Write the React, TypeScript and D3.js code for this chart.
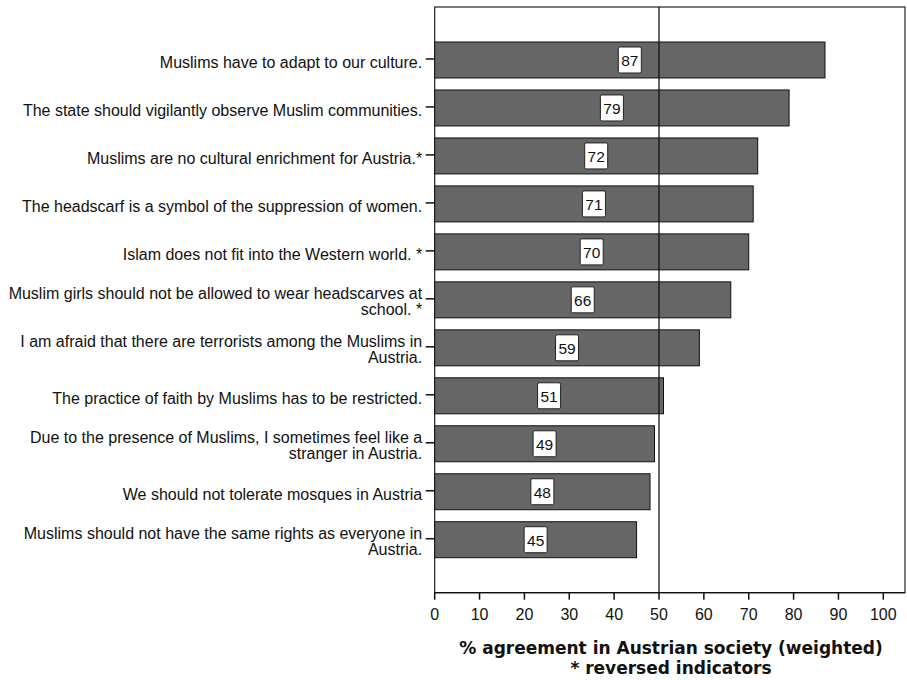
import React, { useEffect, useRef } from "react";
import * as d3 from "d3";

const categories: string[] = [
  "Muslims have to adapt to our culture.",
  "The state should vigilantly observe Muslim communities.",
  "Muslims are no cultural enrichment for Austria.*",
  "The headscarf is a symbol of the suppression of women.",
  "Islam does not fit into the Western world. *",
  "Muslim girls should not be allowed to wear headscarves at\nschool. *",
  "I am afraid that there are terrorists among the Muslims in\nAustria.",
  "The practice of faith by Muslims has to be restricted.",
  "Due to the presence of Muslims, I sometimes feel like a\nstranger in Austria.",
  "We should not tolerate mosques in Austria",
  "Muslims should not have the same rights as everyone in\nAustria.",
];
const values: number[] = [87, 79, 72, 71, 70, 66, 59, 51, 49, 48, 45];
const xTicks: number[] = [0, 10, 20, 30, 40, 50, 60, 70, 80, 90, 100];
const referenceValue = 50;
const titleLines: string[] = ["% agreement in Austrian society (weighted)", "* reversed indicators"];

export default function App() {
  const ref = useRef<SVGSVGElement>(null);
  useEffect(() => {
    const svg = d3.select(ref.current);
    svg.selectAll("*").remove();
    const left = 434.7, right = 905, top = 7, bottom = 592.7;
    const x = d3.scaleLinear().domain([0, 100]).range([left, 883.3]);
    const y = d3.scaleBand<number>().domain(d3.range(categories.length)).range([top + 29, bottom - 29]).paddingInner(0.25).paddingOuter(0.125);
    const font = "'Liberation Sans', Arial, sans-serif";

    // frame
    svg.append("rect").attr("x", left).attr("y", top).attr("width", right - left).attr("height", bottom - top)
      .attr("fill", "white").attr("stroke", "#222").attr("stroke-width", 1.2);

    // bars
    svg.selectAll("rect.bar").data(values).enter().append("rect").attr("class", "bar")
      .attr("x", x(0)).attr("y", (_, i) => y(i)!).attr("width", d => x(d) - x(0)).attr("height", y.bandwidth())
      .attr("fill", "#666666").attr("stroke", "#111").attr("stroke-width", 1);

    // reference line
    svg.append("line").attr("x1", x(referenceValue)).attr("x2", x(referenceValue)).attr("y1", top).attr("y2", bottom)
      .attr("stroke", "#111").attr("stroke-width", 1.3);

    // value labels
    const lab = svg.selectAll("g.vl").data(values).enter().append("g").attr("class", "vl")
      .attr("transform", (d, i) => `translate(${(x(0) + x(d)) / 2},${y(i)! + y.bandwidth() / 2})`);
    lab.append("rect").attr("x", -11.5).attr("y", -13).attr("width", 23).attr("height", 26).attr("rx", 1.5)
      .attr("fill", "white").attr("stroke", "#222").attr("stroke-width", 1);
    lab.append("text").attr("text-anchor", "middle").attr("y", 6).attr("font-family", font).attr("font-size", 15.5)
      .attr("fill", "#111").text(d => String(d));

    // y ticks and labels
    const yt = svg.selectAll("g.yt").data(categories).enter().append("g").attr("class", "yt")
      .attr("transform", (_, i) => `translate(0,${y(i)! + y.bandwidth() / 2 - 1})`);
    yt.append("line").attr("x1", left - 9).attr("x2", left).attr("stroke", "#111").attr("stroke-width", 1.5);
    yt.each(function (d) {
      const lines = d.split("\n");
      const g = d3.select(this);
      const base = lines.length === 1 ? 9.5 : 0;
      lines.forEach((ln, k) => {
        g.append("text").attr("x", left - 12.5).attr("y", base + k * 16)
          .attr("text-anchor", "end").attr("font-family", font).attr("font-size", 16).attr("fill", "#111").text(ln);
      });
    });

    // x axis
    svg.append("line").attr("x1", left).attr("x2", right).attr("y1", bottom).attr("y2", bottom).attr("stroke", "#111").attr("stroke-width", 1.2);
    const xt = svg.selectAll("g.xt").data(xTicks).enter().append("g").attr("class", "xt").attr("transform", d => `translate(${x(d)},${bottom})`);
    xt.append("line").attr("y1", 0).attr("y2", 7).attr("stroke", "#111").attr("stroke-width", 1.5);
    xt.append("text").attr("y", 27).attr("text-anchor", "middle").attr("font-family", font).attr("font-size", 16).attr("fill", "#111").text(d => String(d));

    // title
    titleLines.forEach((t, k) => {
      svg.append("text").attr("x", 671).attr("y", 654 + k * 19.5).attr("text-anchor", "middle")
        .attr("font-family", "'DejaVu Sans', Verdana, sans-serif").attr("font-weight", "bold").attr("font-size", 17)
        .attr("fill", "#111").text(t);
    });
  }, []);
  return (
    <svg ref={ref} width={907} height={680} style={{ position: "absolute", left: 0, top: 0, background: "white" }} />
  );
}
